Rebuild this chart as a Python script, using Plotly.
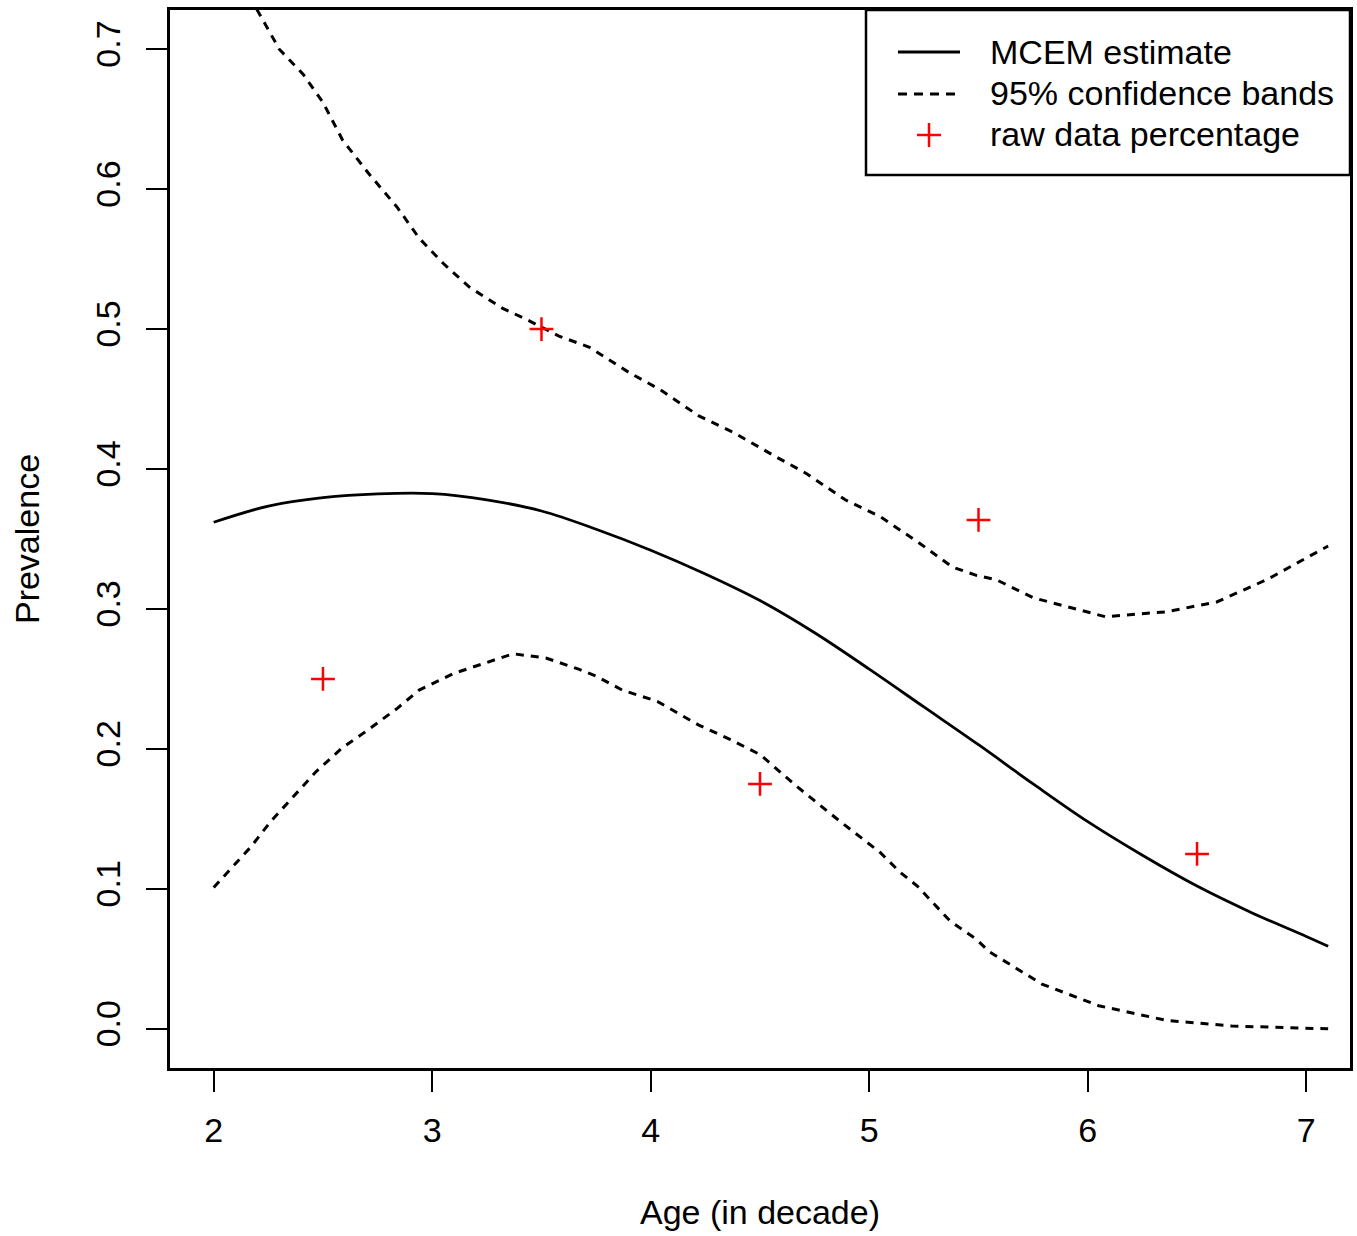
import plotly.graph_objects as go

# MCEM estimate curve
est_age = [2.0, 2.25, 2.5, 2.75, 3.0, 3.25, 3.5, 3.75, 4.0, 4.25, 4.5, 4.75, 5.0, 5.25, 5.5,
           5.75, 6.0, 6.25, 6.5, 6.75, 7.0, 7.1]
est_val = [0.362, 0.3735, 0.3795, 0.3822, 0.3824, 0.378, 0.370, 0.357, 0.342, 0.325, 0.306,
           0.283, 0.257, 0.230, 0.203, 0.175, 0.148, 0.124, 0.102, 0.083, 0.066, 0.059]

# Upper 95% confidence band
up_age = [2.0, 2.1, 2.21, 2.30, 2.41, 2.50, 2.59, 2.71, 2.84, 2.94, 3.05, 3.17, 3.32, 3.43, 3.58,
          3.72, 3.90, 4.04, 4.22, 4.38, 4.57, 4.71, 4.89, 5.05, 5.23, 5.38, 5.49, 5.58, 5.75,
          5.92, 6.08, 6.36, 6.59, 6.82, 7.1]
up_val = [0.785, 0.755, 0.725, 0.700, 0.682, 0.662, 0.635, 0.611, 0.587, 0.565, 0.547, 0.530,
          0.515, 0.507, 0.495, 0.487, 0.469, 0.457, 0.438, 0.426, 0.409, 0.397, 0.378, 0.366,
          0.347, 0.330, 0.324, 0.321, 0.308, 0.301, 0.2945, 0.298, 0.305, 0.321, 0.345]

# Lower 95% confidence band
lo_age = [2.0, 2.17, 2.26, 2.36, 2.47, 2.59, 2.71, 2.84, 2.94, 3.10, 3.23, 3.37, 3.52, 3.67,
          3.75, 3.87, 4.03, 4.22, 4.36, 4.50, 4.67, 4.86, 5.05, 5.14, 5.22, 5.37, 5.49, 5.55,
          5.79, 6.05, 6.36, 6.66, 7.1]
lo_val = [0.101, 0.130, 0.148, 0.165, 0.184, 0.201, 0.214, 0.229, 0.242, 0.254, 0.261, 0.268,
          0.265, 0.257, 0.252, 0.242, 0.234, 0.217, 0.207, 0.196, 0.173, 0.149, 0.126, 0.112,
          0.102, 0.077, 0.064, 0.055, 0.032, 0.0165, 0.006, 0.002, 0.0]

# Raw data percentages
raw_age = [2.5, 3.5, 4.5, 5.5, 6.5]
raw_pct = [0.25, 0.5, 0.175, 0.3636, 0.125]

x_ticks = [2, 3, 4, 5, 6, 7]
y_ticks = [0.0, 0.1, 0.2, 0.3, 0.4, 0.5, 0.6, 0.7]

legend_labels = ["MCEM estimate", "95% confidence bands", "raw data percentage"]

FONT = "Liberation Sans, Arial, sans-serif"
W, H = 1357, 1236
ML, MR, MT, MB = 170, 7, 10, 168
PW, PH = W - ML - MR, H - MT - MB


def px_x(p):  # pixel -> paper x
    return (p - ML) / PW


def px_y(p):  # pixel -> paper y
    return (H - MB - p) / PH


fig = go.Figure()
fig.add_trace(go.Scatter(x=est_age, y=est_val, mode="lines", name=legend_labels[0],
                         showlegend=False,
                         line=dict(color="black", width=2.8, shape="spline")))
fig.add_trace(go.Scatter(x=up_age, y=up_val, mode="lines", name=legend_labels[1],
                         showlegend=False,
                         line=dict(color="black", width=3, dash="8px,7px")))
fig.add_trace(go.Scatter(x=lo_age, y=lo_val, mode="lines", name=legend_labels[1],
                         showlegend=False,
                         line=dict(color="black", width=3, dash="8px,7px")))
fig.add_trace(go.Scatter(x=raw_age, y=raw_pct, mode="markers", name=legend_labels[2],
                         showlegend=False,
                         marker=dict(symbol="cross-thin", size=17, color="red",
                                     line=dict(color="red", width=2.5))))

# Legend box (drawn in paper space)
shapes = [
    dict(type="rect", xref="paper", yref="paper", x0=px_x(866), x1=1.0,
         y0=px_y(175), y1=1.0, line=dict(color="black", width=2.5),
         fillcolor="white", layer="above"),
    dict(type="line", xref="paper", yref="paper", x0=px_x(898), x1=px_x(960),
         y0=px_y(52), y1=px_y(52), line=dict(color="black", width=2.8), layer="above"),
    dict(type="line", xref="paper", yref="paper", x0=px_x(898), x1=px_x(962),
         y0=px_y(94), y1=px_y(94), line=dict(color="black", width=3, dash="9px,7px"),
         layer="above"),
    dict(type="line", xref="paper", yref="paper", x0=px_x(917), x1=px_x(941),
         y0=px_y(135), y1=px_y(135), line=dict(color="red", width=2.5), layer="above"),
    dict(type="line", xref="paper", yref="paper", x0=px_x(929), x1=px_x(929),
         y0=px_y(123), y1=px_y(147), line=dict(color="red", width=2.5), layer="above"),
]
annotations = [
    dict(xref="paper", yref="paper", x=px_x(988), y=px_y(yy), text=t, showarrow=False,
         xanchor="left", yanchor="middle", font=dict(family=FONT, size=34, color="black"))
    for t, yy in zip(legend_labels, [52, 93, 134])
]

fig.update_layout(
    width=W, height=H, autosize=False,
    margin=dict(l=ML, r=MR, t=MT, b=MB),
    paper_bgcolor="white", plot_bgcolor="white",
    font=dict(family=FONT, size=34, color="black"),
    showlegend=False,
    shapes=shapes, annotations=annotations,
)
fig.update_xaxes(
    range=[1.8, 7.2], tickmode="array", tickvals=x_ticks, automargin=False,
    ticks="outside", ticklen=21, tickwidth=2, tickcolor="black",
    showline=True, linecolor="black", linewidth=3, mirror=True,
    showgrid=False, zeroline=False, ticklabelstandoff=9,
    tickfont=dict(family=FONT, size=34, color="black"),
    title=dict(text="Age (in decade)", standoff=53,
               font=dict(family=FONT, size=34, color="black")),
)
fig.update_yaxes(
    range=[-0.028, 0.728], tickmode="array", tickvals=y_ticks, tickformat=".1f",
    tickangle=-90, automargin=False,
    ticks="outside", ticklen=21, tickwidth=2, tickcolor="black",
    showline=True, linecolor="black", linewidth=3, mirror=True,
    showgrid=False, zeroline=False, ticklabelstandoff=12,
    tickfont=dict(family=FONT, size=34, color="black"),
    title=dict(text="Prevalence", standoff=40,
               font=dict(family=FONT, size=34, color="black")),
)

fig.write_html("out.html", config={"displayModeBar": False},
               post_script="document.body.style.margin='0';document.body.style.padding='0';")
